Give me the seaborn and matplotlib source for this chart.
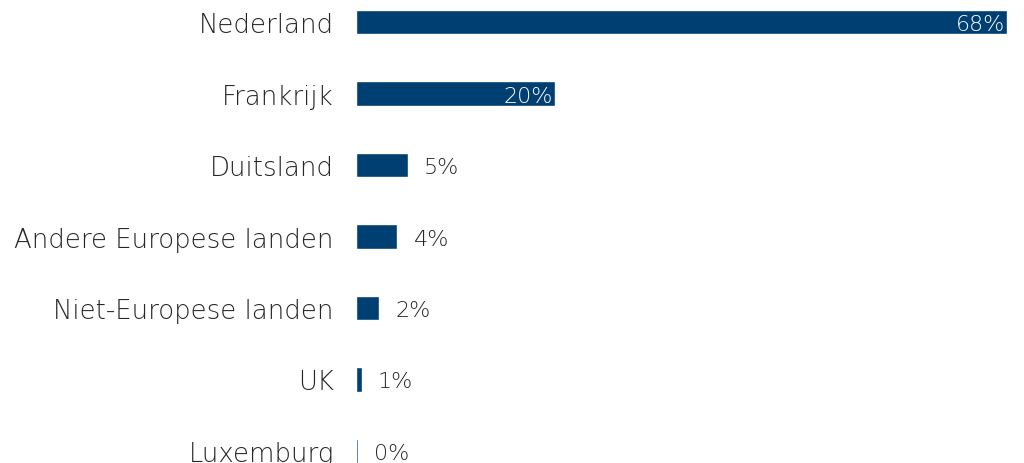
import matplotlib
matplotlib.use("Agg")
import matplotlib.pyplot as plt
import pandas as pd
import seaborn as sns

# values (percent)
landen = ["Nederland", "Frankrijk", "Duitsland", "Andere Europese landen",
          "Niet-Europese landen", "UK", "Luxemburg"]
aandeel = [68, 20.8, 5.4, 4.3, 2.4, 0.6, 0.2]
labels = ["68%", "20%", "5%", "4%", "2%", "1%", "0%"]

df = pd.DataFrame({"land": landen, "aandeel": aandeel})

sns.set_theme(style="white")
plt.rcParams["font.family"] = ["DejaVu Sans"]

fig = plt.figure(figsize=(10.24, 4.64), dpi=100)
# axes placed by hand so the bars line up with the reference
ax = fig.add_axes([356 / 1024, -23.75 / 464, 668 / 1024, 500.5 / 464])

bar_color = "#003f72"
sns.barplot(data=df, y="land", x="aandeel", color=bar_color, orient="h",
            width=0.34, saturation=1, ax=ax)

ax.set_xlim(0, 668 / (651 / 68))
ax.set_ylim(6.5, -0.5)
ax.set_xlabel("")
ax.set_ylabel("")
ax.set_xticks([])
ax.set_yticks(range(len(landen)))
ax.set_yticklabels(landen, fontsize=18.7, color="#262626", fontweight="light")
ax.tick_params(axis="y", length=0, pad=16)
sns.despine(ax=ax, left=True, bottom=True)

for i, (v, lab) in enumerate(zip(aandeel, labels)):
    if v > 10:
        ax.text(v - 0.2, i, lab, ha="right", va="center_baseline", color="white",
                fontsize=16, fontweight="light")
    else:
        ax.text(v + 1.7, i, lab, ha="left", va="center_baseline", color="#262626",
                fontsize=16, fontweight="light")

fig.savefig("out.png", dpi=100)
